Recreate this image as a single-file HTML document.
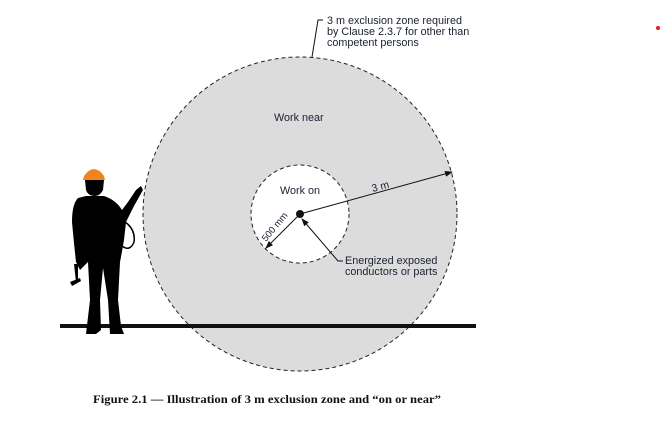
<!DOCTYPE html>
<html><head><meta charset="utf-8"><style>
html,body{margin:0;padding:0;background:#fff;width:665px;height:445px;overflow:hidden}
svg{display:block}
text{font-family:"Liberation Sans",sans-serif;fill:#1a2030}
</style></head><body>
<svg width="665" height="445" viewBox="0 0 665 445">
<defs>
<marker id="ah" markerWidth="8" markerHeight="6" refX="7" refY="3" orient="auto" markerUnits="userSpaceOnUse"><path d="M0,0 L8,3 L0,6 Z" fill="#111"/></marker>
</defs>
<circle cx="300" cy="214" r="157" fill="#dcdcdd" stroke="#222" stroke-width="1" stroke-dasharray="4,3"/>
<circle cx="300" cy="214" r="49" fill="#fff" stroke="#222" stroke-width="1" stroke-dasharray="4,3"/>
<line x1="60" y1="326" x2="476" y2="326" stroke="#111" stroke-width="4"/>
<text x="274" y="121" font-size="10.8">Work near</text>
<text x="280" y="194" font-size="10.8">Work on</text>
<line x1="300" y1="214" x2="452" y2="172" stroke="#111" stroke-width="1" marker-end="url(#ah)"/>
<text x="372" y="190" font-size="10.5" transform="rotate(-15 380 188)">3 m</text>
<line x1="300" y1="214" x2="266" y2="248" stroke="#111" stroke-width="1" marker-end="url(#ah)"/>
<text x="266" y="242" font-size="9.5" transform="rotate(-50 266 242)">500 mm</text>
<circle cx="300" cy="214" r="4" fill="#111"/>
<polyline points="343,261 338,261 302,219" fill="none" stroke="#111" stroke-width="1" marker-end="url(#ah)"/>
<text font-size="10.8"><tspan x="345" y="264">Energized exposed</tspan><tspan x="345" y="275">conductors or parts</tspan></text>
<polyline points="323,20 318,20 312,57" fill="none" stroke="#111" stroke-width="1"/>
<text font-size="10.8"><tspan x="327" y="24">3 m exclusion zone required</tspan><tspan x="327" y="35">by Clause 2.3.7 for other than</tspan><tspan x="327" y="46">competent persons</tspan></text>
<g fill="#000">
<path d="M84,176 Q94,162 104,176 L105,180 L83,180 Z" fill="#f0841e"/>
<path d="M85,180 L104,180 L103,190 Q100,196 95,196 Q88,196 86,190 Z"/>
<path d="M86,196 L104,196 Q116,200 122,210 L128,202 L136,190 L141,186 L143,190 L134,206 L126,222 L124,240 Q122,252 120,262 L118,300 L121,326 L124,334 L110,334 L108,300 L103,268 L100,300 L101,330 L96,334 L86,334 L90,300 L88,262 L80,270 L76,262 Q74,244 72,222 Q72,204 78,198 Z"/>
<path d="M74,264 L78,264 L78,282 L76,282 Z"/>
<path d="M70,282 L80,278 L81,281 L72,286 Z"/>
<path d="M122,220 Q136,228 134,242 Q130,252 122,246" fill="none" stroke="#000" stroke-width="1.5"/>
</g>
<text x="93" y="403" font-size="12" font-weight="bold" textLength="348" lengthAdjust="spacingAndGlyphs" style="font-family:'Liberation Serif',serif;fill:#111">Figure 2.1 — Illustration of 3 m exclusion zone and “on or near”</text>
<circle cx="658" cy="28" r="2" fill="#e02020"/>
</svg>
</body></html>
